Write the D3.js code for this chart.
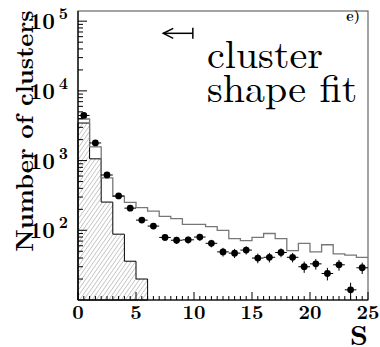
<!DOCTYPE html>
<html>
<head>
<meta charset="utf-8">
<script src="https://cdn.jsdelivr.net/npm/d3@7"></script>
</head>
<body style="margin:0">
<div id="chart"></div>
<script>
// bin lower edges in S (bins are 1 wide)
var binLow = [0,1,2,3,4,5,6,7,8,9,10,11,12,13,14,15,16,17,18,19,20,21,22,23,24];
// open histogram (all clusters, simulation)
var mcAll = [3950,1570,566,306,251,211,189,158,147,122,122,113,100,76,71,79,90,76,51,65,49,62,46,44,41];
// hatched histogram (first bins only)
var mcCut = [3460,1060,254,88,36,20];
// data points with errors
var dataVals = [4440,1790,621,311,208,140,115,79,72,73,80,65,49,47,52,40,41,48,41,30,33,24,32,14,29];
var dataErr  = [67,42,25,18,14,12,11,9,8.5,8.5,9,8,7,7,7,6.3,6.4,7,6.4,5.5,5.7,4.9,5.7,3.7,5.4];
var xTicks = [0,5,10,15,20,25];
var yDecades = [2,3,4,5];
var arrowS = [9.9, 7.35];
var arrowN = 6.7e4;

var CMR = "'Latin Modern Roman'";

var W = 380, H = 347;
var margin = {top: 11, right: 12, bottom: 47, left: 78}
  , width = W - margin.left - margin.right
  , height = H - margin.top - margin.bottom;

var x = d3.scaleLinear().domain([0, 25]).range([0, width]);
var y = d3.scaleLog().domain([10, 1.4e5]).range([height, 0]);

var svg = d3.select('#chart').append('svg')
  .attr('width', W).attr('height', H);

// hatch pattern for the shaded histogram
var defs = svg.append('defs');
defs.append('pattern')
  .attr('id', 'hatch')
  .attr('patternUnits', 'userSpaceOnUse')
  .attr('width', 3.4).attr('height', 10)
  .attr('patternTransform', 'rotate(35)')
  .append('line')
  .attr('x1', 0).attr('y1', 0).attr('x2', 0).attr('y2', 10)
  .attr('stroke', '#777').attr('stroke-width', 0.8);

var main = svg.append('g')
  .attr('transform', 'translate(' + margin.left + ',' + margin.top + ')');

// frame
main.append('rect')
  .attr('width', width).attr('height', height)
  .attr('fill', 'none').attr('stroke', '#666').attr('stroke-width', 1.2);

// hatched histogram
var cutPts = [[x(0), y.range()[0]]];
mcCut.forEach(function(v, i) {
  cutPts.push([x(binLow[i]), y(v)]);
  cutPts.push([x(binLow[i] + 1), y(v)]);
});
cutPts.push([x(binLow[mcCut.length - 1] + 1), y.range()[0]]);
main.append('path')
  .attr('d', d3.line()(cutPts) + 'Z')
  .attr('fill', 'url(#hatch)')
  .attr('stroke', '#000').attr('stroke-width', 1);

// open histogram
var allPts = [];
mcAll.forEach(function(v, i) {
  allPts.push([x(binLow[i]), y(v)]);
  allPts.push([x(binLow[i] + 1), y(v)]);
});
main.append('path')
  .attr('d', d3.line()(allPts))
  .attr('fill', 'none')
  .attr('stroke', '#777').attr('stroke-width', 1.3);

// data points with error bars
var pts = main.append('g');
dataVals.forEach(function(v, i) {
  var cx = x(binLow[i] + 0.5);
  pts.append('line')
    .attr('x1', x(binLow[i])).attr('x2', x(binLow[i] + 1))
    .attr('y1', y(v)).attr('y2', y(v))
    .attr('stroke', '#000').attr('stroke-width', 1);
  pts.append('line')
    .attr('x1', cx).attr('x2', cx)
    .attr('y1', y(v - dataErr[i])).attr('y2', y(v + dataErr[i]))
    .attr('stroke', '#000').attr('stroke-width', 1);
  pts.append('circle')
    .attr('cx', cx).attr('cy', y(v)).attr('r', 3.4)
    .attr('fill', '#000');
});

// axes
var xMinor = d3.range(0, 25.01, 0.5);
main.append('g').selectAll('line').data(xMinor).enter().append('line')
  .attr('x1', function(d) { return x(d); })
  .attr('x2', function(d) { return x(d); })
  .attr('y1', height)
  .attr('y2', function(d) { return height - (d % 5 === 0 ? 8 : 4); })
  .attr('stroke', '#000').attr('stroke-width', 1);
main.append('line')
  .attr('x1', 0).attr('x2', width).attr('y1', height).attr('y2', height)
  .attr('stroke', '#000').attr('stroke-width', 1.2);

main.append('g').selectAll('text').data(xTicks).enter().append('text')
  .attr('x', function(d) { return x(d); })
  .attr('y', height + 19)
  .attr('text-anchor', 'middle')
  .style('font-family', CMR)
  .attr('font-size', 20).attr('font-weight', 'bold')
  .text(function(d) { return d; });

var yMinor = [];
[1, 2, 3, 4].forEach(function(e) {
  for (var m = 1; m <= 9; m++) yMinor.push(m * Math.pow(10, e));
});
yMinor.push(1e5);
main.append('g').selectAll('line').data(yMinor.filter(function(d) { return d > 10; })).enter().append('line')
  .attr('x1', 0)
  .attr('x2', function(d) { return Math.abs(Math.log10(d) % 1) < 1e-9 ? 9 : 5; })
  .attr('y1', function(d) { return y(d); })
  .attr('y2', function(d) { return y(d); })
  .attr('stroke', '#000').attr('stroke-width', 1);
main.append('line')
  .attr('x1', 0).attr('x2', 0).attr('y1', 0).attr('y2', height)
  .attr('stroke', '#000').attr('stroke-width', 1.2);

var yl = main.append('g').selectAll('text').data(yDecades).enter().append('text')
  .attr('x', -10)
  .attr('y', function(d) { return y(Math.pow(10, d)) + 8; })
  .attr('text-anchor', 'end')
  .style('font-family', CMR)
  .attr('font-size', 22).attr('font-weight', 'bold');
yl.append('tspan').text('10');
yl.append('tspan').attr('dx', 4).attr('dy', -10).attr('font-size', 16)
  .text(function(d) { return d; });

// arrow marking the cut
var ay = y(arrowN);
main.append('line')
  .attr('x1', x(arrowS[0])).attr('x2', x(arrowS[1]))
  .attr('y1', ay).attr('y2', ay)
  .attr('stroke', '#000').attr('stroke-width', 1.5);
main.append('line')
  .attr('x1', x(arrowS[0])).attr('x2', x(arrowS[0]))
  .attr('y1', ay - 5.5).attr('y2', ay + 5.5)
  .attr('stroke', '#000').attr('stroke-width', 1.5);
main.append('path')
  .attr('d', 'M' + (x(arrowS[1]) + 10) + ',' + (ay - 5) + 'L' + x(arrowS[1]) + ',' + ay + 'L' + (x(arrowS[1]) + 10) + ',' + (ay + 5))
  .attr('fill', 'none').attr('stroke', '#000').attr('stroke-width', 1.5);

// annotations
svg.append('text')
  .attr('x', 207).attr('y', 68)
  .style('font-family', CMR)
  .attr('font-size', 40)
  .text('cluster');
svg.append('text')
  .attr('x', 207).attr('y', 102)
  .style('font-family', CMR)
  .attr('font-size', 40)
  .text('shape fit');
svg.append('text')
  .attr('x', 360).attr('y', 21)
  .attr('text-anchor', 'end')
  .style('font-family', CMR)
  .attr('font-size', 14).attr('font-weight', 'bold')
  .text('e)');

// axis titles
svg.append('text')
  .attr('x', 368).attr('y', 345)
  .attr('text-anchor', 'end')
  .style('font-family', CMR)
  .attr('font-size', 28).attr('font-weight', 'bold')
  .text('S');
svg.append('text')
  .attr('text-anchor', 'middle')
  .attr('transform', 'translate(33,131)rotate(-90)')
  .style('font-family', CMR)
  .attr('font-size', 25).attr('font-weight', 'bold')
  .text('Number of clusters');
</script>
</body>
</html>
